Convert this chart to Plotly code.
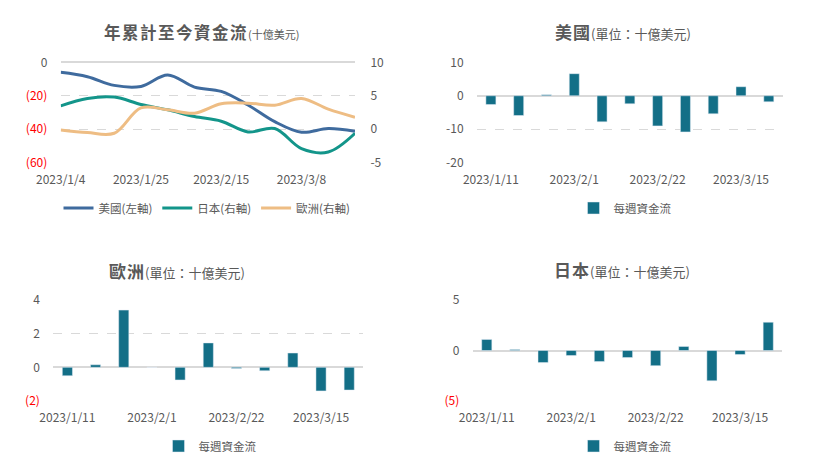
import plotly.graph_objects as go

W, H = 837, 468

# ---- data ----
line_dates = ["2023/1/4", "2023/1/11", "2023/1/18", "2023/1/25", "2023/2/1", "2023/2/8",
              "2023/2/15", "2023/2/22", "2023/3/1", "2023/3/8", "2023/3/15", "2023/3/22"]
us_cum = [-6.0, -8.6, -13.8, -14.4, -7.6, -14.8, -17.4, -25.5, -35.5, -41.8, -39.6, -41.2]
jp_cum = [3.5, 4.6, 4.8, 3.7, 2.9, 1.9, 1.2, -0.4, 0.1, -2.9, -3.4, -0.6]
eu_cum = [-0.1, -0.5, -0.6, 3.2, 2.9, 2.4, 3.8, 3.9, 3.6, 4.6, 3.0, 1.8]

bar_dates = ["2023/1/11", "2023/1/18", "2023/1/25", "2023/2/1", "2023/2/8", "2023/2/15",
             "2023/2/22", "2023/3/1", "2023/3/8", "2023/3/15", "2023/3/22"]
us_week = [-2.6, -5.9, 0.3, 6.6, -7.8, -2.4, -9.0, -10.8, -5.4, 2.7, -1.8]
eu_week = [-0.5, 0.15, 3.4, 0.0, -0.75, 1.45, -0.07, -0.2, 0.85, -1.4, -1.35]
jp_week = [1.1, 0.1, -1.2, -0.5, -1.1, -0.7, -1.5, 0.4, -3.0, -0.4, 2.8]

line_ticks = [line_dates[i] for i in (0, 3, 6, 9)]
bar_ticks = [bar_dates[i] for i in (0, 3, 6, 9)]

# ---- style ----
FONT = "Noto Sans CJK TC"
GRAY = "#595959"
GRID = "#d9d9d9"
BAR = "#136f87"
C_US, C_JP, C_EU = "#3f6b9e", "#13958a", "#eebd84"
RED = "#ff0000"


def red(s):
    return f"<span style='color:{RED}'>{s}</span>"


def px(x):
    return x / W


def py(y):
    return 1 - y / H


fig = go.Figure()

# top-left lines
fig.add_trace(go.Scatter(x=line_dates, y=us_cum, name="美國(左軸)", mode="lines",
                         line=dict(color=C_US, width=3, shape="spline", smoothing=1.0),
                         xaxis="x", yaxis="y", legend="legend"))
fig.add_trace(go.Scatter(x=line_dates, y=jp_cum, name="日本(右軸)", mode="lines",
                         line=dict(color=C_JP, width=3, shape="spline", smoothing=1.0),
                         xaxis="x", yaxis="y2", legend="legend"))
fig.add_trace(go.Scatter(x=line_dates, y=eu_cum, name="歐洲(右軸)", mode="lines",
                         line=dict(color=C_EU, width=3, shape="spline", smoothing=1.0),
                         xaxis="x", yaxis="y2", legend="legend"))

# bars
fig.add_trace(go.Bar(x=bar_dates, y=us_week, name="每週資金流", marker_color=BAR, width=0.36,
                     xaxis="x2", yaxis="y3", legend="legend2"))
fig.add_trace(go.Bar(x=bar_dates, y=eu_week, name="每週資金流", marker_color=BAR, width=0.36,
                     xaxis="x3", yaxis="y4", legend="legend3"))
fig.add_trace(go.Bar(x=bar_dates, y=jp_week, name="每週資金流", marker_color=BAR, width=0.36,
                     xaxis="x4", yaxis="y5", legend="legend4"))

tickfont = dict(family=FONT, size=12, color=GRAY)


def xax(domain, anchor, ticks):
    return dict(domain=domain, anchor=anchor, type="category", tickvals=ticks, ticktext=ticks,
                showgrid=False, showline=False, zeroline=False, ticks="outside", ticklen=6,
                tickcolor="rgba(0,0,0,0)", tickfont=tickfont, fixedrange=True, automargin=False)


def yax(domain, anchor, rng, vals, text):
    return dict(domain=domain, anchor=anchor, range=rng, tickvals=vals, ticktext=text, side="left",
                showgrid=True, gridcolor=GRID, griddash="dash", gridwidth=1,
                zeroline=True, zerolinecolor=GRID, zerolinewidth=1.5,
                showline=False, tickfont=tickfont, ticks="outside", ticklen=10,
                tickcolor="rgba(0,0,0,0)", fixedrange=True, automargin=False)


top_y = [py(162.7), py(62.3)]
bot_y = [py(401), py(300)]

layout = dict(
    width=W, height=H, margin=dict(l=0, r=0, t=0, b=0, pad=0),
    paper_bgcolor="white", plot_bgcolor="white",
    font=dict(family=FONT, color=GRAY),
    xaxis=xax([px(60.7), px(355)], "y", line_ticks),
    yaxis=yax(top_y, "x", [-60, 0], [0, -20, -40, -60],
              ["0", red("(20)"), red("(40)"), red("(60)")]),
    yaxis2=dict(overlaying="y", anchor="x", side="right", range=[-5, 10], tickvals=[10, 5, 0, -5],
                ticktext=["10", "5", "0", "-5"], showgrid=False, zeroline=False, showline=False,
                tickfont=tickfont, ticks="outside", ticklen=12, tickcolor="rgba(0,0,0,0)",
                fixedrange=True, automargin=False),
    xaxis2=xax([px(477), px(782.7)], "y3", bar_ticks),
    yaxis3=yax(top_y, "x2", [-20, 10], [10, 0, -10, -20], ["10", "0", "-10", "-20"]),
    xaxis3=xax([px(53.3), px(363.3)], "y4", bar_ticks),
    yaxis4=yax(bot_y, "x3", [-2, 4], [4, 2, 0, -2], ["4", "2", "0", red("(2)")]),
    xaxis4=xax([px(472.7), px(782.3)], "y5", bar_ticks),
    yaxis5=yax(bot_y, "x4", [-5, 5], [5, 0, -5], ["5", "0", red("(5)")]),
    showlegend=True,
)

legend_common = dict(orientation="h", xanchor="center", yanchor="middle",
                     font=dict(family=FONT, size=11.5, color=GRAY), bgcolor="rgba(0,0,0,0)",
                     itemclick=False, itemdoubleclick=False, itemwidth=30)
layout["legend"] = dict(x=px(207), y=py(208), **legend_common)
layout["legend2"] = dict(x=px(625), y=py(208), **legend_common)
layout["legend3"] = dict(x=px(210), y=py(446), **legend_common)
layout["legend4"] = dict(x=px(625), y=py(446), **legend_common)

fig.update_layout(**layout)


def title(x, y, big, small, size, small_size, spacing):
    fig.add_annotation(x=px(x), y=py(y), xref="paper", yref="paper", showarrow=False,
                       xanchor="center", yanchor="middle",
                       text=(f"<b><span style='letter-spacing:{spacing}px'>{big}</span></b>"
                             f"<span style='font-size:{small_size}px'>{small}</span>"),
                       font=dict(family=FONT, size=size, color=GRAY))


title(201, 32, "年累計至今資金流", "(十億美元)", 16.5, 11, 1.5)
title(623, 32, "美國", "(單位：十億美元)", 17, 13, 1)
title(177, 270, "歐洲", "(單位：十億美元)", 17, 13, 1)
title(622, 269, "日本", "(單位：十億美元)", 17, 13, 1)

fig.write_html("out.html", config={"displayModeBar": False},
               post_script="document.body.style.margin='0';document.body.style.overflow='hidden';")
